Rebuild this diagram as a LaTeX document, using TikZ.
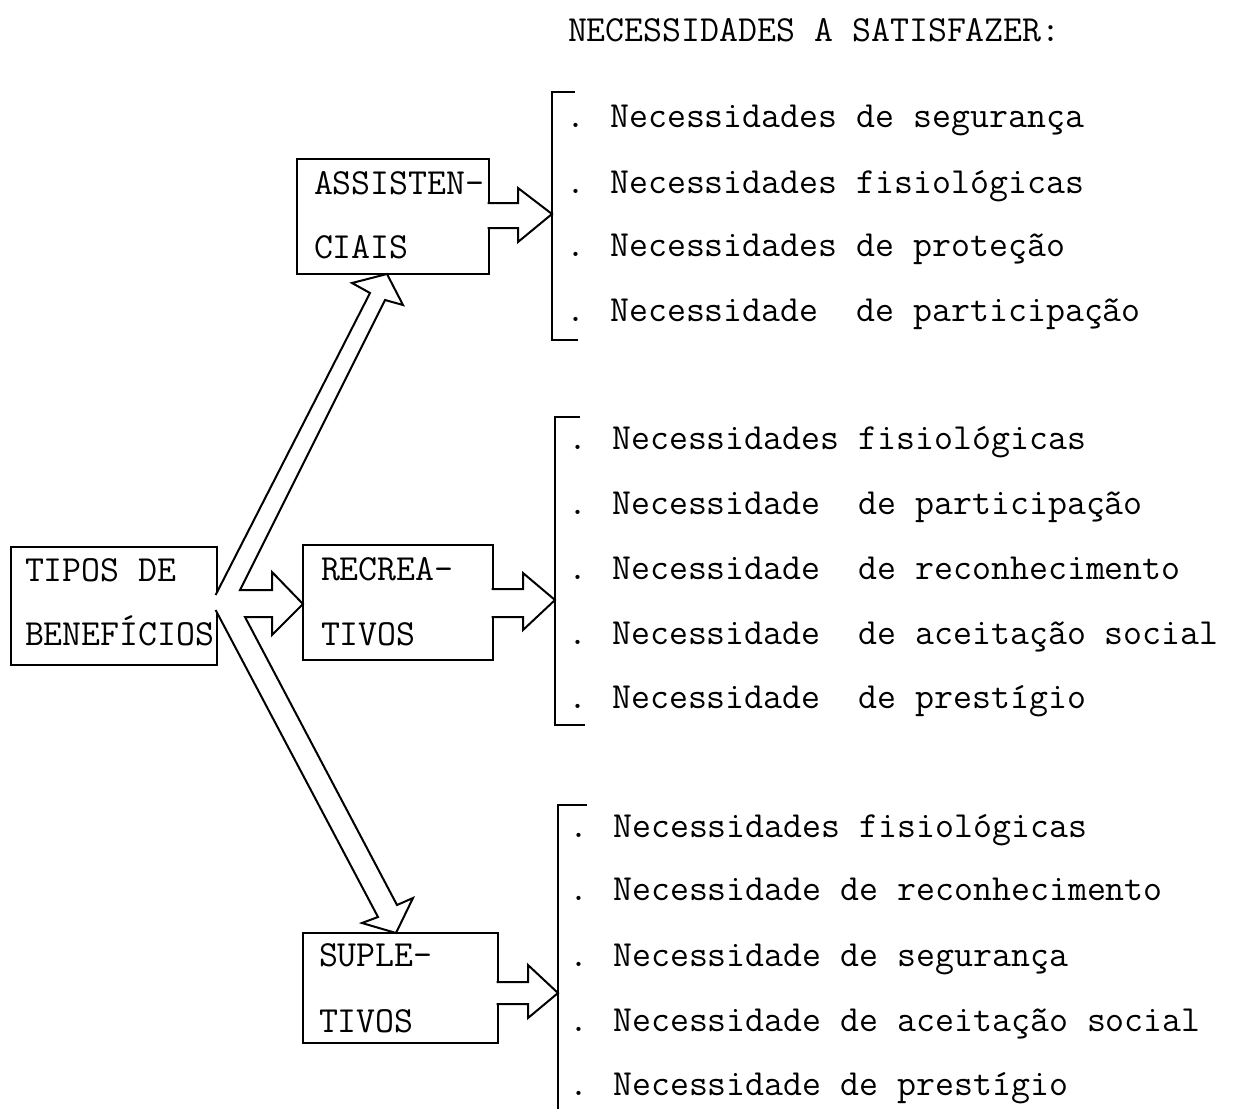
\documentclass[tikz,border=0pt]{standalone}
\begin{document}
\begin{tikzpicture}[x=1pt,y=-1pt,
  line width=2pt, line join=miter,
  txt/.style={font=\ttfamily\fontsize{36.8}{40}\selectfont, inner sep=0pt, anchor=base west},
  bx/.style={draw, rectangle, inner sep=0pt},
  hollow/.style={draw, fill=white}]
\useasboundingbox (0,0) rectangle (1245,1109);

% ---- boxes ----
\node[bx, minimum width=206pt, minimum height=118pt] (tipos)  at (114,606) {};
\node[bx, minimum width=192pt, minimum height=115pt] (assist) at (393,216.5) {};
\node[bx, minimum width=190pt, minimum height=115pt] (recrea) at (398,602.5) {};
\node[bx, minimum width=195pt, minimum height=110pt] (suple)  at (400.5,988) {};

\node[txt] (t1) at (24,581) {TIPOS DE};
\node[txt] (t2) at (24,645) {BENEF\'ICIOS};
\node[txt] (a1) at (313,194) {ASSISTEN-};
\node[txt] (a2) at (313,258) {CIAIS};
\node[txt] (r1) at (320,580) {RECREA-};
\node[txt] (r2) at (320,645) {TIVOS};
\node[txt] (s1) at (318,966) {SUPLE-};
\node[txt] (s2) at (318,1032) {TIVOS};

% ---- title ----
\node[txt] (title) at (567,41) {NECESSIDADES A SATISFAZER:};

% ---- lists ----
\node[txt] (n11) at (565,127) {. Necessidades de seguran\c{c}a};
\node[txt] (n12) at (565,193) {. Necessidades fisiol\'ogicas};
\node[txt] (n13) at (565,256) {. Necessidades de prote\c{c}\~ao};
\node[txt] (n14) at (565,321) {. Necessidade\ \ de participa\c{c}\~ao};

\node[txt] (n21) at (567,449) {. Necessidades fisiol\'ogicas};
\node[txt] (n22) at (567,514) {. Necessidade\ \ de participa\c{c}\~ao};
\node[txt] (n23) at (567,579) {. Necessidade\ \ de reconhecimento};
\node[txt] (n24) at (567,644) {. Necessidade\ \ de aceita\c{c}\~ao social};
\node[txt] (n25) at (567,708) {. Necessidade\ \ de prest\'igio};

\node[txt] (n31) at (568,837) {. Necessidades fisiol\'ogicas};
\node[txt] (n32) at (568,900) {. Necessidade de reconhecimento};
\node[txt] (n33) at (568,966) {. Necessidade de seguran\c{c}a};
\node[txt] (n34) at (568,1031) {. Necessidade de aceita\c{c}\~ao social};
\node[txt] (n35) at (568,1095) {. Necessidade de prest\'igio};

% ---- brackets ----
\draw (575,92) -- (552,92) -- (552,340) -- (578,340);
\draw (580,417) -- (555,417) -- (555,725) -- (585,725);
\draw (587,805) -- (558,805) -- (558,1109);
\coordinate (g1) at (552,214);
\coordinate (g2) at (555,600);
\coordinate (g3) at (558,993);

% ---- hollow arrows from the boxes to the lists ----
\path[hollow] (487.6,203) -- (518,203) -- (518,188) -- (g1) -- (518,242) -- (518,228) -- (487.6,228);
\path[hollow] (491.6,589) -- (523,589) -- (523,573) -- (g2) -- (523,630) -- (523,617) -- (491.6,617);
\path[hollow] (496.6,982) -- (528,982) -- (528,965) -- (g3) -- (528,1018) -- (528,1004) -- (496.6,1004);

% ---- three hollow arrows leaving the left box ----
\path[hollow] (215.6,595) -- (370,293) -- (352,283) -- (387,274) -- (403,305) -- (385,300)
  -- (240,590) -- (272,590) -- (272,572) -- (303,604) -- (272,635) -- (272,617) -- (245,617)
  -- (397,905) -- (413,898) -- (396,933) -- (362,923) -- (378,917) -- (215.6,610);
\end{tikzpicture}
\end{document}
